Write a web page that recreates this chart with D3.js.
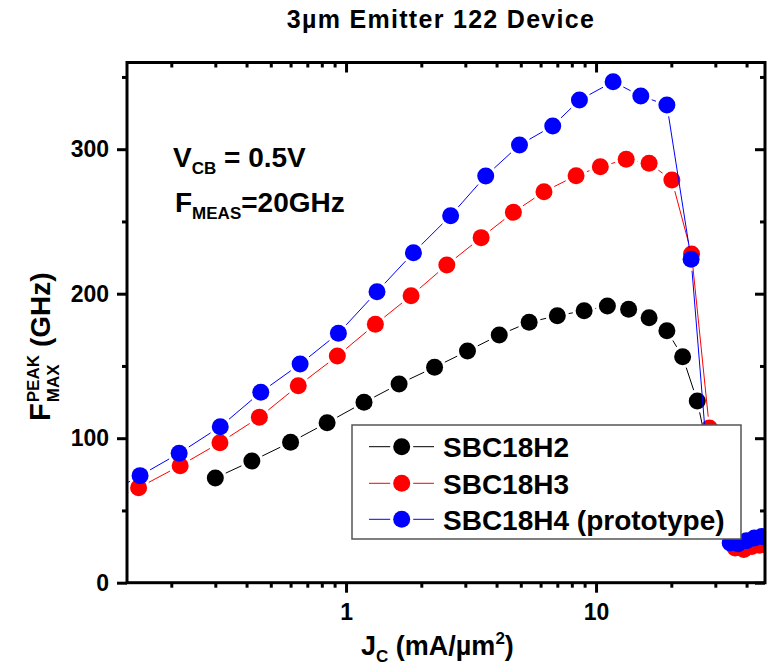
<!DOCTYPE html>
<meta charset='utf-8'>
<style>
    body { margin: 0; background: #fff; }
    text { font-family: 'Liberation Sans', Arial, sans-serif; font-weight: bold; fill: #000; }
</style>
<body>
<div id='chart'></div>
<script src='https://cdnjs.cloudflare.com/ajax/libs/d3/7.8.5/d3.min.js'></script>
<script>
    // J_C (mA/um^2) and F_MAX peak (GHz) per wafer
    const h2J = [0.30, 0.42, 0.60, 0.84, 1.18, 1.63, 2.26, 3.06, 4.10, 5.40, 7.0, 8.96, 11.1, 13.5, 16.3, 19.2, 22.2, 25.4, 28.5];
    const h2F = [72.5, 84.2, 97.2, 110.7, 124.8, 137.5, 149.1, 160.3, 171.4, 180.2, 184.8, 188.2, 191.5, 189.2, 183.4, 174.4, 156.4, 125.7, 85];

    const h3J = [0.10, 0.148, 0.217, 0.313, 0.450, 0.644, 0.923, 1.31, 1.82, 2.53, 3.47, 4.67, 6.19, 8.32, 10.4, 13.2, 16.3, 20.1, 24.1, 28.4, 36, 39, 42, 45, 48];
    const h3F = [51, 65.7, 81.0, 96.9, 114.5, 136.3, 156.9, 178.8, 198.6, 219.9, 238.8, 256.3, 270.6, 281.7, 287.9, 293, 290.2, 278.7, 227.5, 107, 24, 23, 25, 26, 26];

    const h4J = [0.10, 0.150, 0.215, 0.314, 0.456, 0.655, 0.932, 1.33, 1.86, 2.62, 3.62, 4.94, 6.71, 8.58, 11.7, 15.1, 19.2, 24.0, 28.5, 34.4, 37, 40, 43, 46];
    const h4F = [57, 74.1, 89.6, 108.0, 131.8, 151.3, 172.6, 201.4, 228.4, 254, 281.5, 302.9, 316.1, 334, 346.7, 336.8, 330.6, 223.8, 65, 27.5, 27, 29, 31, 32];

    const seriesNames = ['SBC18H2', 'SBC18H3', 'SBC18H4 (prototype)'];
    const seriesColors = ['#000000', '#ff0000', '#0000ff'];

    const xMajor = [1, 10];
    const xMinor = [0.2, 0.3, 0.4, 0.5, 0.6, 0.7, 0.8, 0.9, 2, 3, 4, 5, 6, 7, 8, 9, 20, 30, 40];
    const yMajor = [0, 100, 200, 300];
    const yMinor = [50, 150, 250, 350];

    const W = 767, H = 669;
    const plot = { left: 127, right: 765, top: 62.5, bottom: 582.7 };
    const r = 8.5, gap = 3;

    const svg = d3.select('#chart').append('svg')
        .attr('width', W).attr('height', H);

    const x = d3.scaleLog().domain([0.133, 47.4]).range([plot.left, plot.right]);
    const y = d3.scaleLinear().domain([0, 360]).range([plot.bottom, plot.top]);

    svg.append('clipPath').attr('id', 'clip')
        .append('rect')
        .attr('x', plot.left).attr('y', plot.top)
        .attr('width', plot.right - plot.left).attr('height', plot.bottom - plot.top);

    // title
    svg.append('text')
        .attr('x', 441).attr('y', 28)
        .attr('text-anchor', 'middle')
        .style('font-size', '25px')
        .style('letter-spacing', '1.3px')
        .text('3µm Emitter 122 Device');

    // series
    const series = [
        { j: h2J, f: h2F },
        { j: h3J, f: h3F },
        { j: h4J, f: h4F },
    ];

    // line pieces stop short of each marker
    const pieces = pts => {
        let out = [];
        for (let i = 1; i < pts.length; i++) {
            let [x0, y0] = pts[i - 1], [x1, y1] = pts[i];
            let d = Math.hypot(x1 - x0, y1 - y0), cut = r + gap;
            if (d <= 2 * cut) continue;
            let ux = (x1 - x0) / d, uy = (y1 - y0) / d;
            out.push([x0 + ux * cut, y0 + uy * cut, x1 - ux * cut, y1 - uy * cut]);
        }
        return out;
    };

    const dataG = svg.append('g').attr('clip-path', 'url(#clip)');

    series.forEach((s, k) => {
        let pts = s.j.map((v, i) => [x(v), y(s.f[i])]);
        let g = dataG.append('g');
        g.selectAll('line')
            .data(pieces(pts))
            .enter().append('line')
            .attr('x1', d => d[0]).attr('y1', d => d[1])
            .attr('x2', d => d[2]).attr('y2', d => d[3])
            .attr('stroke', seriesColors[k])
            .attr('stroke-width', 1);
        g.selectAll('circle')
            .data(pts)
            .enter().append('circle')
            .attr('cx', d => d[0]).attr('cy', d => d[1])
            .attr('r', r)
            .attr('fill', seriesColors[k]);
    });

    // axes
    const axisStyle = g => {
        g.select('.domain').remove();
        g.selectAll('.tick line').attr('stroke', '#000').attr('stroke-width', 3);
        g.selectAll('.tick text')
            .style('font-family', "'Liberation Sans', Arial, sans-serif")
            .style('font-weight', 'bold')
            .style('font-size', '23px')
            .attr('fill', '#000');
    };

    svg.append('g')
        .attr('transform', `translate(0, ${plot.bottom})`)
        .call(d3.axisBottom(x).tickValues(xMajor).tickSize(10).tickPadding(11).tickFormat(d3.format('d')))
        .call(axisStyle);
    svg.append('g')
        .attr('transform', `translate(0, ${plot.bottom})`)
        .call(d3.axisBottom(x).tickValues(xMinor).tickSize(5).tickFormat(''))
        .call(axisStyle);
    svg.append('g')
        .attr('transform', `translate(0, ${plot.top})`)
        .call(d3.axisTop(x).tickValues(xMajor).tickSize(-10).tickFormat(''))
        .call(axisStyle);
    svg.append('g')
        .attr('transform', `translate(0, ${plot.top})`)
        .call(d3.axisTop(x).tickValues(xMinor).tickSize(-5).tickFormat(''))
        .call(axisStyle);

    svg.append('g')
        .attr('transform', `translate(${plot.left}, 0)`)
        .call(d3.axisLeft(y).tickValues(yMajor).tickSize(10).tickPadding(8))
        .call(axisStyle);
    svg.append('g')
        .attr('transform', `translate(${plot.left}, 0)`)
        .call(d3.axisLeft(y).tickValues(yMinor).tickSize(5).tickFormat(''))
        .call(axisStyle);
    svg.append('g')
        .attr('transform', `translate(${plot.right}, 0)`)
        .call(d3.axisRight(y).tickValues(yMajor).tickSize(-10).tickFormat(''))
        .call(axisStyle);
    svg.append('g')
        .attr('transform', `translate(${plot.right}, 0)`)
        .call(d3.axisRight(y).tickValues(yMinor).tickSize(-5).tickFormat(''))
        .call(axisStyle);

    svg.append('rect')
        .attr('x', plot.left).attr('y', plot.top)
        .attr('width', plot.right - plot.left).attr('height', plot.bottom - plot.top)
        .attr('fill', 'none').attr('stroke', '#000').attr('stroke-width', 3);

    // annotations
    const subText = (g, parts, x0, y0) => {
        let t = g.append('text').attr('x', x0).attr('y', y0);
        parts.forEach(p => {
            t.append('tspan')
                .attr('dy', p.dy || 0)
                .style('font-size', p.size + 'px')
                .text(p.t);
        });
        return t;
    };
    subText(svg, [
        { t: 'V', size: 28 },
        { t: 'CB', size: 17, dy: 7 },
        { t: ' = 0.5V', size: 28, dy: -7 },
    ], 173, 167);
    subText(svg, [
        { t: 'F', size: 28 },
        { t: 'MEAS', size: 17, dy: 7 },
        { t: '=20GHz', size: 28, dy: -7 },
    ], 175, 212);

    // x label
    subText(svg, [
        { t: 'J', size: 27 },
        { t: 'C', size: 17, dy: 7 },
        { t: ' (mA/µm', size: 27, dy: -7 },
        { t: '2', size: 17, dy: -11 },
        { t: ')', size: 27, dy: 11 },
    ], 361, 655);

    // y label, rotated, with stacked super/subscript
    let yl = svg.append('g').attr('transform', 'translate(50, 421) rotate(-90)');
    let fT = yl.append('text').attr('x', 0).attr('y', 0).style('font-size', '29px').text('F');
    let wF = fT.node().getComputedTextLength() + 1;
    let supT = yl.append('text').attr('x', wF).attr('y', -11).style('font-size', '17px').text('PEAK');
    let subT = yl.append('text').attr('x', wF).attr('y', 9).style('font-size', '17px').text('MAX');
    let wS = Math.max(supT.node().getComputedTextLength(), subT.node().getComputedTextLength());
    yl.append('text').attr('x', wF + wS + 8).attr('y', 0).style('font-size', '28px').text('(GHz)');

    // legend
    const lg = svg.append('g');
    lg.append('rect')
        .attr('x', 352).attr('y', 425).attr('width', 389).attr('height', 114)
        .attr('fill', '#fff').attr('stroke', '#555').attr('stroke-width', 1.5);
    const rowY = [446.7, 483.3, 519.3];
    seriesNames.forEach((name, k) => {
        let row = lg.append('g').attr('transform', `translate(0, ${rowY[k]})`);
        row.append('line').attr('x1', 369).attr('x2', 401.7 - r - gap).attr('y1', 0).attr('y2', 0)
            .attr('stroke', seriesColors[k]).attr('stroke-width', 1);
        row.append('line').attr('x1', 401.7 + r + gap).attr('x2', 434).attr('y1', 0).attr('y2', 0)
            .attr('stroke', seriesColors[k]).attr('stroke-width', 1);
        row.append('circle').attr('cx', 401.7).attr('cy', 0).attr('r', r).attr('fill', seriesColors[k]);
        row.append('text').attr('x', 443).attr('y', 10.5).style('font-size', '28px').text(name);
    });
</script>
</body>
